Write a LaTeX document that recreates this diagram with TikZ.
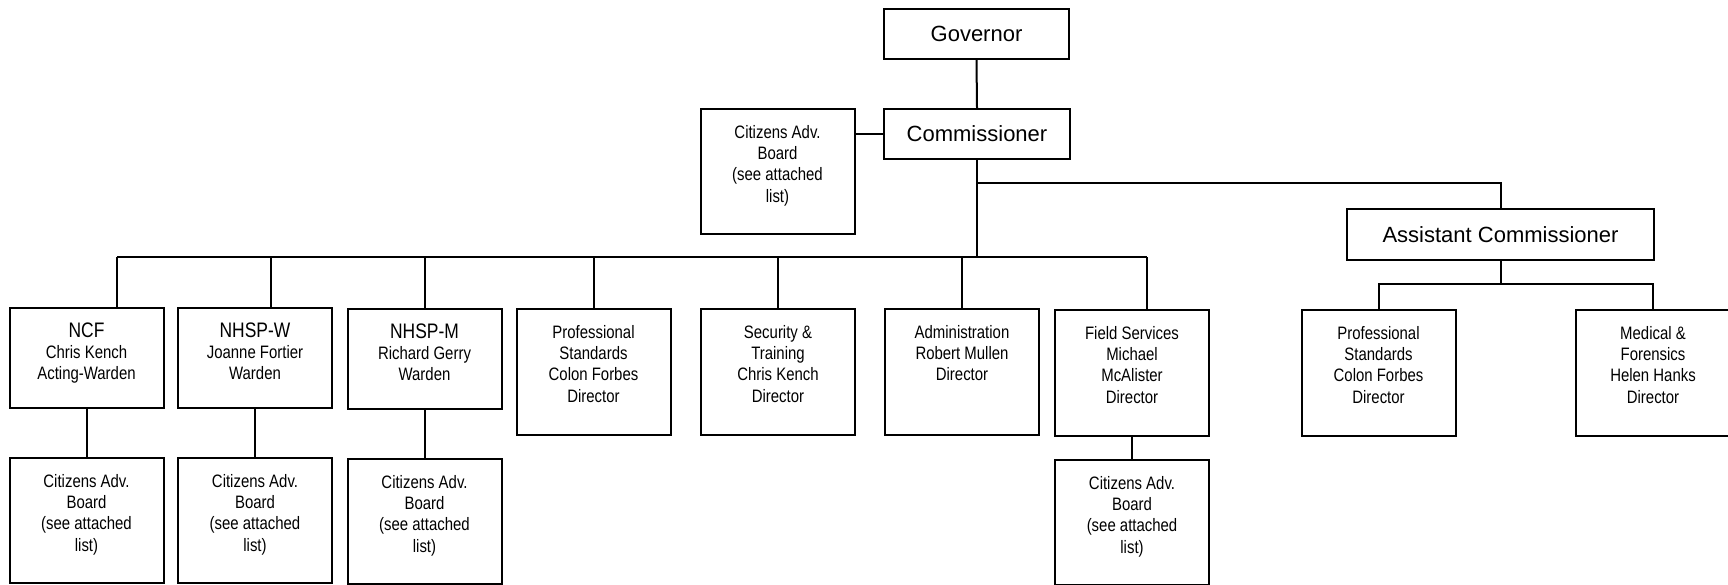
\documentclass[tikz,border=0pt]{standalone}
\usepackage{fontspec}
\setmainfont{Liberation Sans}
\newfontfamily\narrowfont[FakeStretch=0.83]{Liberation Sans}

\newcommand{\boxlines}[2]{\parbox[c][#1][t]{77pt}{\centering\rule{0pt}{14.5pt}#2}}

\tikzset{
  head/.style={draw, line width=1pt, inner sep=0pt, anchor=north, minimum height=25pt,
    font=\fontsize{11pt}{13pt}\selectfont},
  unit/.style={draw, line width=1pt, inner sep=0pt, anchor=north,
    font=\narrowfont\fontsize{9pt}{10.7pt}\selectfont},
  link/.style={line width=1pt}
}

\begin{document}
\begin{tikzpicture}[x=0.5pt, y=-0.5pt]
        \useasboundingbox (0,0) rectangle (1728,584);

        % top
        \node[head, minimum width=92.5pt] (gov) at (976.5,8) {Governor};
        \node[head, minimum width=93pt] (comm) at (977,108) {Commissioner};
        \node[unit] (cab) at (777.5,108) {\boxlines{62.5pt}{Citizens Adv.\\Board\\(see attached\\list)}};
        \node[head, minimum width=153.5pt, minimum height=25.5pt] (asst) at (1500.5,208) {Assistant Commissioner};

        % first row
        \node[unit] (ncf) at (86.5,307) {\boxlines{50pt}{{\fontsize{10.5pt}{10.7pt}\selectfont NCF}\\Chris Kench\\Acting-Warden}};
        \node[unit] (nhspw) at (255,307) {\boxlines{50pt}{{\fontsize{10.5pt}{10.7pt}\selectfont NHSP-W}\\Joanne Fortier\\Warden}};
        \node[unit] (nhspm) at (424.5,308) {\boxlines{50pt}{{\fontsize{10.5pt}{10.7pt}\selectfont NHSP-M}\\Richard Gerry\\Warden}};
        \node[unit] (profstd) at (593.5,308) {\boxlines{63pt}{Professional\\Standards\\Colon Forbes\\Director}};
        \node[unit] (security) at (778,308) {\boxlines{63pt}{Security \&\\Training\\Chris Kench\\Director}};
        \node[unit] (admin) at (962,308) {\boxlines{63pt}{Administration\\Robert Mullen\\Director}};
        \node[unit] (field) at (1132,309) {\boxlines{63pt}{Field Services\\Michael\\McAlister\\Director}};
        \node[unit] (profstd2) at (1378.5,309) {\boxlines{63pt}{Professional\\Standards\\Colon Forbes\\Director}};
        \node[unit] (medical) at (1653,309) {\boxlines{63pt}{Medical \&\\Forensics\\Helen Hanks\\Director}};

        % citizens boards
        \node[unit] (ncf-cab) at (86.5,457) {\boxlines{62.5pt}{Citizens Adv.\\Board\\(see attached\\list)}};
        \node[unit] (nhspw-cab) at (255,457) {\boxlines{62.5pt}{Citizens Adv.\\Board\\(see attached\\list)}};
        \node[unit] (nhspm-cab) at (424.5,458) {\boxlines{62.5pt}{Citizens Adv.\\Board\\(see attached\\list)}};
        \node[unit] (field-cab) at (1132,459) {\boxlines{62.5pt}{Citizens Adv.\\Board\\(see attached\\list)}};

        % lines
        \coordinate (busL) at (117,257);
        \coordinate (busR) at (1147,257);
        \coordinate (branch) at (977,183);
        \coordinate (busA) at (1379,284);

        \draw[link] (gov.south) -- (comm.north);
        \draw[link] (comm.west) -- (comm.west -| cab.east);
        \draw[link] (comm.south) -- (comm.south |- busL);
        \draw[link] (busL) -- (busR);
        \draw[link] (branch) -| (asst.north);
        \draw[link] (asst.south) -- (asst.south |- busA);
        \draw[link] (profstd2.north) -- (profstd2.north |- busA) -| (medical.north);

        \foreach \n/\dx in {ncf/15, nhspw/8, nhspm/0, profstd/0, security/0, admin/0, field/7.5}
            \draw[link] ([xshift=\dx pt]\n.north) -- ([xshift=\dx pt]\n.north |- busL);

        \foreach \n in {ncf, nhspw, nhspm, field}
            \draw[link] (\n.south) -- (\n-cab.north);

    \end{tikzpicture}
\end{document}
